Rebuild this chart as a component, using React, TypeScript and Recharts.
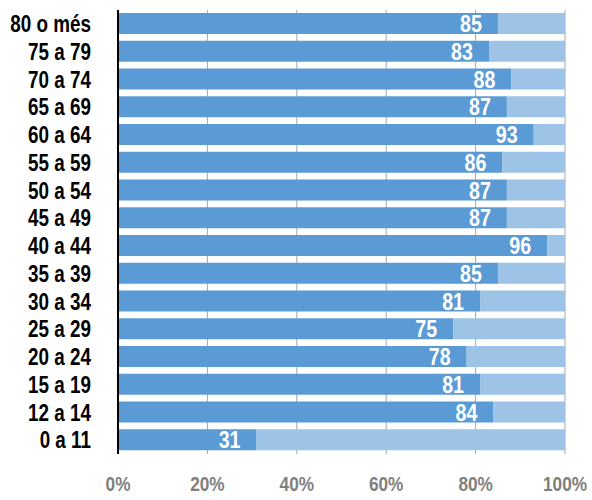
import { BarChart, Bar, XAxis, YAxis, CartesianGrid, LabelList } from 'recharts';

// age groups, top to bottom
const ageGroups = [
  "80 o més", "75 a 79", "70 a 74", "65 a 69", "60 a 64", "55 a 59",
  "50 a 54", "45 a 49", "40 a 44", "35 a 39", "30 a 34", "25 a 29",
  "20 a 24", "15 a 19", "12 a 14", "0 a 11"]
const shares = [85, 83, 88, 87, 93, 86, 87, 87, 96, 85, 81, 75, 78, 81, 84, 31]
const xTicks = [0, 20, 40, 60, 80, 100]

const FONT = '"Liberation Sans", Arial, sans-serif'
// narrow look: squeeze bold Liberation Sans horizontally
const NARROW = 0.82

function NarrowText({ x, y, text, anchor, size, fill, dy }: any) {
  return (
    <text
      x={0}
      y={0}
      dy={dy}
      transform={`translate(${x},${y}) scale(${NARROW},1)`}
      textAnchor={anchor}
      fill={fill}
      fontSize={size}
      fontWeight="bold"
      fontFamily={FONT}
    >
      {text}
    </text>
  )
}

function AgeTick({ x, y, payload }: any) {
  return <NarrowText x={x} y={y} text={payload.value} anchor="end" size={23} fill="#000" dy="0.36em" />
}

function PctTick({ x, y, payload }: any) {
  return <NarrowText x={x} y={y} text={`${payload.value}%`} anchor="middle" size={21} fill="#808080" dy="0.71em" />
}

function ShareLabel({ x, y, width, height, value }: any) {
  return (
    <NarrowText
      x={x + width - 16}
      y={y + height / 2}
      text={value}
      anchor="end"
      size={24}
      fill="#fff"
      dy="0.36em"
    />
  )
}

function App() {
  const data = ageGroups.map((group, i) => ({
    group,
    share: shares[i],
    rest: 100 - shares[i]
  }))

  return (
    <div style={{ position: 'absolute', left: 0, top: 0 }}>
      <BarChart
        width={592}
        height={500}
        data={data}
        layout="vertical"
        margin={{ top: 10, right: 27, bottom: 16, left: 8 }}
        barSize={21}
      >
        <CartesianGrid horizontal={false} stroke="#a6a6a6" strokeWidth={1} />
        <XAxis
          type="number"
          domain={[0, 100]}
          ticks={xTicks}
          axisLine={false}
          tickLine={false}
          tickMargin={16}
          height={30}
          tick={<PctTick />}
        />
        <YAxis
          type="category"
          dataKey="group"
          width={110}
          axisLine={{ stroke: '#000', strokeWidth: 2 }}
          tickLine={false}
          tickMargin={21}
          interval={0}
          tick={<AgeTick />}
        />
        <Bar dataKey="share" stackId="a" fill="#5b9bd5" isAnimationActive={false}>
          <LabelList dataKey="share" content={<ShareLabel />} />
        </Bar>
        <Bar dataKey="rest" stackId="a" fill="#9dc3e6" isAnimationActive={false} />
      </BarChart>
    </div>
  )
}

export default App
